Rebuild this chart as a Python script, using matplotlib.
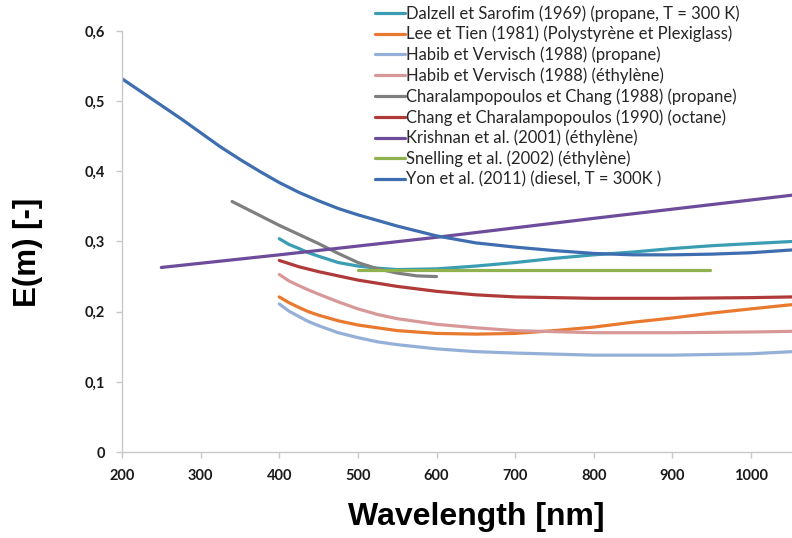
import numpy as np
import matplotlib
matplotlib.use("Agg")
import matplotlib.pyplot as plt
from matplotlib.ticker import FuncFormatter

# Data: E(m) as a function of wavelength (nm), read per source

dalzell_x = [400, 412, 425, 437, 450, 475, 500, 525, 550, 600, 650, 700, 750, 800, 850, 900, 950, 1000, 1052]
dalzell_y = [0.304, 0.296, 0.290, 0.284, 0.279, 0.270, 0.265, 0.262, 0.260, 0.261, 0.265, 0.270, 0.276, 0.281, 0.285, 0.290, 0.294, 0.297, 0.300]

lee_x = [400, 412, 425, 437, 450, 475, 500, 550, 600, 650, 700, 750, 800, 850, 900, 950, 1000, 1052]
lee_y = [0.221, 0.213, 0.206, 0.200, 0.195, 0.187, 0.181, 0.173, 0.169, 0.168, 0.169, 0.173, 0.178, 0.185, 0.191, 0.198, 0.204, 0.210]

habib_p_x = [400, 412, 425, 437, 450, 475, 500, 525, 550, 600, 650, 700, 800, 900, 1000, 1052]
habib_p_y = [0.211, 0.201, 0.193, 0.186, 0.180, 0.170, 0.163, 0.157, 0.153, 0.147, 0.143, 0.141, 0.138, 0.138, 0.140, 0.143]

habib_e_x = [400, 412, 425, 437, 450, 475, 500, 525, 550, 600, 650, 700, 800, 900, 1000, 1052]
habib_e_y = [0.253, 0.244, 0.237, 0.231, 0.225, 0.214, 0.204, 0.196, 0.190, 0.182, 0.177, 0.173, 0.170, 0.170, 0.171, 0.172]

charal_x = [340, 370, 400, 425, 450, 475, 500, 525, 550, 575, 600]
charal_y = [0.357, 0.340, 0.323, 0.310, 0.297, 0.283, 0.270, 0.261, 0.255, 0.251, 0.250]

chang_x = [400, 425, 450, 475, 500, 550, 600, 650, 700, 800, 900, 1000, 1052]
chang_y = [0.273, 0.264, 0.257, 0.251, 0.245, 0.236, 0.229, 0.224, 0.221, 0.219, 0.219, 0.220, 0.221]

krishnan_x = [250, 400, 600, 800, 1052]
krishnan_y = [0.263, 0.281, 0.306, 0.333, 0.366]

snelling_x = [500, 948]
snelling_y = [0.260, 0.260]

yon_x = [200, 225, 250, 275, 300, 325, 350, 375, 400, 425, 450, 475, 500, 550, 600, 650, 700, 750, 800, 850, 900, 950, 1000, 1052]
yon_y = [0.532, 0.513, 0.494, 0.475, 0.455, 0.435, 0.417, 0.400, 0.384, 0.370, 0.358, 0.347, 0.338, 0.322, 0.308, 0.298, 0.292, 0.287, 0.283, 0.281, 0.281, 0.282, 0.284, 0.288]

labels = [
    "Dalzell et Sarofim (1969) (propane, T = 300 K)",
    "Lee et Tien (1981) (Polystyrène et Plexiglass)",
    "Habib et Vervisch (1988) (propane)",
    "Habib et Vervisch (1988) (éthylène)",
    "Charalampopoulos et Chang (1988) (propane)",
    "Chang et Charalampopoulos (1990) (octane)",
    "Krishnan et al. (2001) (éthylène)",
    "Snelling et al. (2002) (éthylène)",
    "Yon et al. (2011) (diesel, T = 300K )",
]
series = [
    (dalzell_x, dalzell_y), (lee_x, lee_y), (habib_p_x, habib_p_y),
    (habib_e_x, habib_e_y), (charal_x, charal_y), (chang_x, chang_y),
    (krishnan_x, krishnan_y), (snelling_x, snelling_y), (yon_x, yon_y),
]
colors = ["#3a9db3", "#e8792e", "#94b0d8", "#d99898", "#7f7f7f",
          "#b03a3a", "#6e4c9c", "#8fb24e", "#3e6db0"]

fig = plt.figure(figsize=(7.92, 5.38), dpi=100)
ax = fig.add_axes([122 / 792, 86 / 538, 1 - 122 / 792, 421 / 538])

lines = []
for (x, y), c, lab in zip(series, colors, labels):
    ln, = ax.plot(x, y, color=c, lw=2.3, solid_capstyle="round",
                  solid_joinstyle="round", label=lab)
    lines.append(ln)

ax.set_xlim(200, 1052)
ax.set_ylim(0, 0.6)
ax.set_xticks(np.arange(200, 1001, 100))
ax.set_yticks(np.arange(0, 0.61, 0.1))
ax.yaxis.set_major_formatter(FuncFormatter(lambda v, p: ("%.1f" % v).replace(".", ",") if v > 0 else "0"))

for s in ["top", "right"]:
    ax.spines[s].set_visible(False)
for s in ["left", "bottom"]:
    ax.spines[s].set_color("#c8c8c8")
    ax.spines[s].set_linewidth(1.0)
ax.tick_params(colors="#c8c8c8", length=4, width=1.0, labelcolor="#1a1a1a", direction="out")
ax.tick_params(axis="y", pad=8)
ax.tick_params(axis="x", pad=8)
for t in ax.get_xticklabels() + ax.get_yticklabels():
    t.set_fontfamily("Lato")
    t.set_fontweight("bold")
    t.set_fontsize(10.5)

ax.set_xlabel("Wavelength [nm]", fontfamily="Liberation Sans", fontweight="bold", fontsize=23)
ax.set_ylabel("E(m) [-]", fontfamily="Liberation Sans", fontweight="bold", fontsize=22.5)
ax.xaxis.set_label_coords((476 - 122) / 670, -(517 - 452) / 421, transform=ax.transAxes)
ax.xaxis.label.set_va("center")
ax.yaxis.set_label_coords(-(122 - 28) / 670, (452 - 252) / 421, transform=ax.transAxes)
ax.yaxis.label.set_va("center")

leg = fig.legend(handles=lines, loc="upper left", bbox_to_anchor=(375 / 792, 1 - 5 / 538),
                 frameon=False, borderpad=0, borderaxespad=0, handlelength=1.8,
                 handletextpad=0.05, labelspacing=0.255,
                 prop={"family": "Lato", "size": 12})
for t in leg.get_texts():
    t.set_color("#262626")

fig.savefig("out.png", dpi=100)
